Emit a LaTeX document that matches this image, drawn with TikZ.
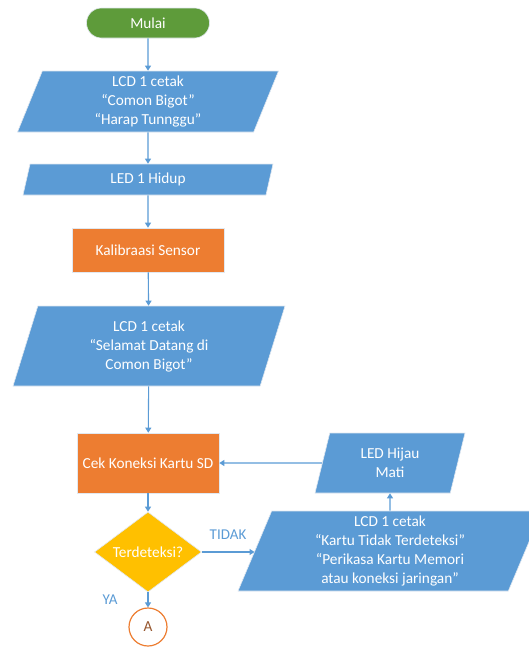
\documentclass[tikz,border=0pt]{standalone}
\usepackage{fontspec}
\setmainfont{Carlito}
\usetikzlibrary{shapes.geometric,arrows.meta}
\definecolor{cblue}{RGB}{91,155,213}
\definecolor{corange}{RGB}{237,125,49}
\definecolor{cgreen}{RGB}{94,155,58}
\definecolor{cyellow}{RGB}{255,192,0}
\definecolor{cline}{RGB}{91,155,213}
\definecolor{cedge}{RGB}{225,232,240}
\definecolor{cA}{RGB}{150,85,45}
\begin{document}
\begin{tikzpicture}[x=1pt,y=-1pt,
  every node/.style={font=\fontsize{15.3}{19}\selectfont, text=white, align=center, inner sep=1pt},
  base/.style={draw=cedge, line width=0.6pt},
  term/.style={base, fill=cgreen, rounded corners=15pt, minimum width=123pt, minimum height=30pt},
  io/.style={base, trapezium, trapezium left angle=65, trapezium right angle=115,
             trapezium stretches body, fill=cblue},
  proc/.style={base, fill=corange},
  dec/.style={base, diamond, fill=cyellow, minimum width=107pt, minimum height=80pt, aspect=1.34},
  conn/.style={circle, draw=corange, line width=1.2pt, fill=white, minimum size=38pt, text=cA},
  lbl/.style={text=cblue, font=\fontsize{15}{17}\selectfont},
  arr/.style={draw=cline, line width=1.1pt, -{Triangle[width=6pt,length=5pt]}}
]
\useasboundingbox (0,0) rectangle (528,648);

\node[term] (start) at (148,23) {Mulai};
\node[io, minimum width=261pt, minimum height=61pt] (lcd1) at (148,101.5)
  {LCD 1 cetak\\“Comon Bigot”\\“Harap Tunnggu”};
\node[io, minimum width=250pt, minimum height=31pt] (led1) at (148,179.5) {LED 1 Hidup};
\node[proc, minimum width=152pt, minimum height=44pt] (kal) at (148,250) {Kalibraasi Sensor};
\node[io, minimum width=272pt, minimum height=80pt] (lcd2) at (149,346)
  {LCD 1 cetak\\“Selamat Datang di\\Comon Bigot”};
\node[proc, minimum width=142pt, minimum height=60pt] (cek) at (148,463) {Cek Koneksi Kartu SD};
\node[dec] (dec) at (148,552) {Terdeteksi?};
\node[conn] (A) at (148,627) {A};
\node[io, minimum width=304pt, minimum height=80pt] (lcd3) at (390,551)
  {LCD 1 cetak\\“Kartu Tidak Terdeteksi”\\“Perikasa Kartu Memori\\atau koneksi jaringan”};
\node[io, minimum width=150pt, minimum height=60pt] (ledh) at (390,463) {LED Hijau\\Mati};

\draw[arr] (start) -- (lcd1);
\draw[arr] (lcd1) -- (led1);
\draw[arr] (led1) -- (kal);
\draw[arr] (kal) -- (lcd2);
\draw[arr] (lcd2) -- (cek);
\draw[arr] (cek) -- (dec);
\draw[arr] (dec) -- (A);
\draw[arr] (dec.east) -- (dec.east -| lcd3.west);
\draw[arr] (lcd3) -- (ledh);
\draw[arr] (ledh.west) -- (cek.east);

\node[lbl] (tidak) at (228,535) {TIDAK};
\node[lbl] (ya) at (110,600) {YA};
\end{tikzpicture}
\end{document}
